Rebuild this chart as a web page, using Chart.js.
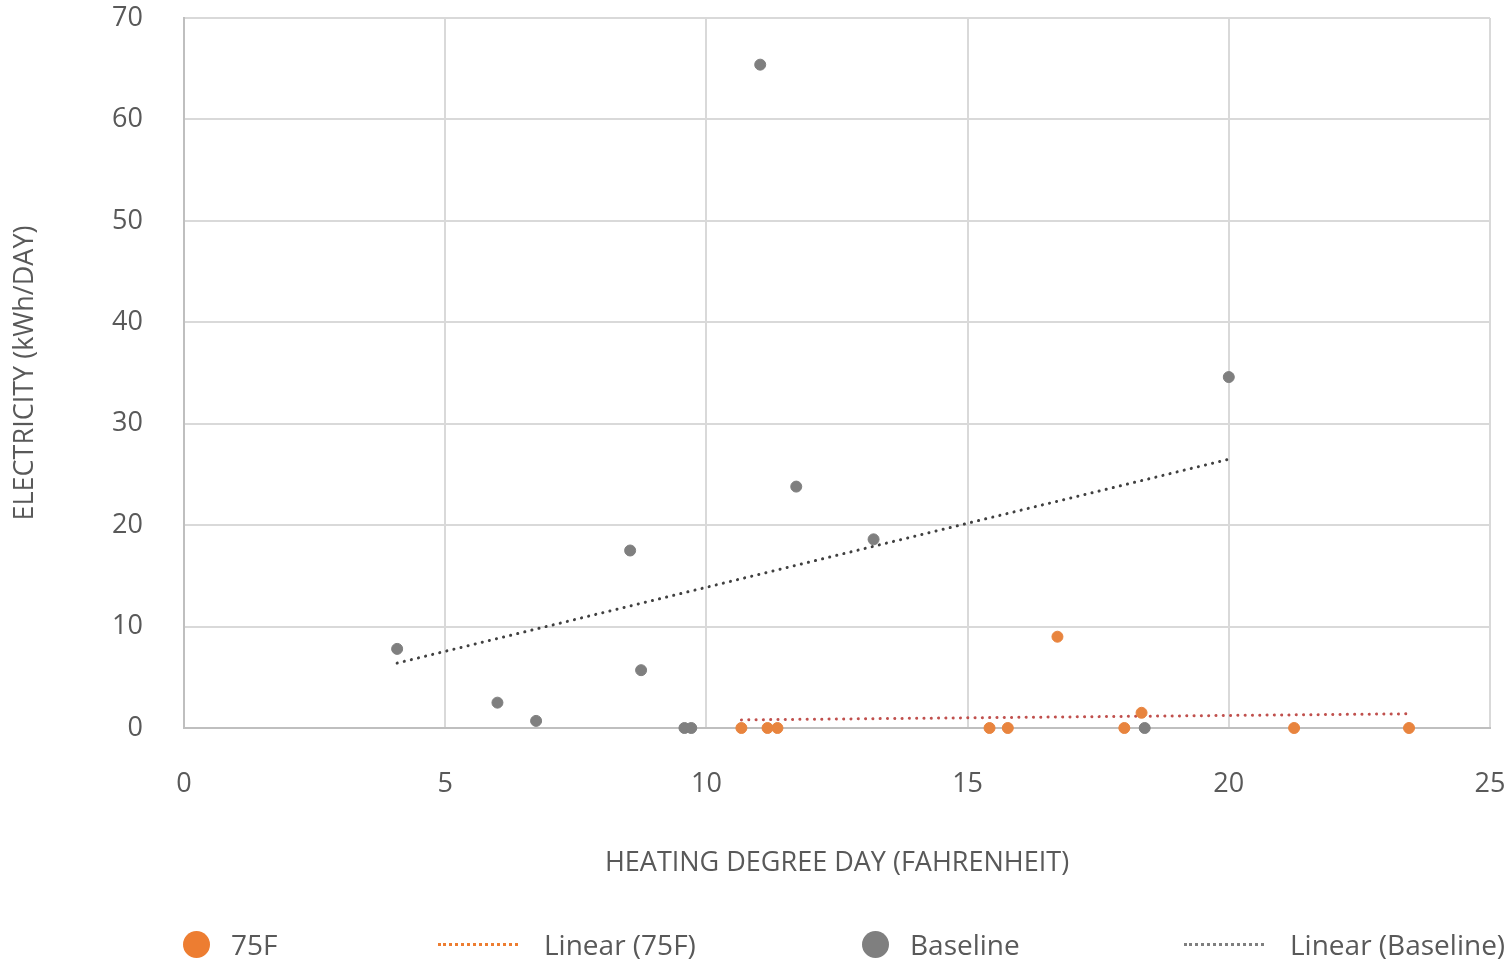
<!DOCTYPE html>
<html lang="en">
<head>
	<meta charset="UTF-8">
	<title>Electricity vs Heating Degree Day</title>
	<style>
		body { margin: 0; background: #fff; font-family: "Open Sans", sans-serif; }
		.wrap { position: relative; width: 1507px; height: 964px; }
		.legend { position: absolute; top: 924px; left: 0; width: 1507px; height: 40px; color: #595959; font-size: 28px; }
		.item { position: absolute; top: 0; height: 40px; display: flex; align-items: center; white-space: nowrap; }
		.dot { width: 27px; height: 27px; border-radius: 50%; margin-right: 21px; }
		.dash { width: 80px; height: 0; border-top: 3px dotted; margin-right: 26px; }
	</style>
</head>
<body>
	<div class="wrap">
		<canvas id="chart" width="1507" height="964"></canvas>

		<!-- legend -->
		<div class="legend">
			<div class="item" style="left:183px"><span class="dot" style="background:#ED7D31"></span>75F</div>
			<div class="item" style="left:438px"><span class="dash" style="border-color:#ED7D31"></span>Linear (75F)</div>
			<div class="item" style="left:862px"><span class="dot" style="background:#7F7F7F"></span>Baseline</div>
			<div class="item" style="left:1184px"><span class="dash" style="border-color:#7F7F7F"></span>Linear (Baseline)</div>
		</div>
	</div>

	<script src="https://cdn.jsdelivr.net/npm/chart.js"></script>

	<script>
		// data
		const f75X = [10.67, 11.17, 11.36, 15.42, 15.77, 16.72, 18.0, 18.33, 21.25, 23.45];
		const f75Y = [0, 0, 0, 0, 0, 9.0, 0, 1.5, 0, 0];

		const baseX = [4.08, 6.0, 6.74, 8.54, 8.75, 9.58, 9.71, 11.03, 11.72, 13.2, 18.39, 20.0];
		const baseY = [7.8, 2.5, 0.7, 17.5, 5.7, 0, 0, 65.4, 23.8, 18.6, 0, 34.6];

		// trendline end points
		const f75TrendX = [10.67, 23.45];
		const f75TrendY = [0.8, 1.4];
		const baseTrendX = [4.08, 20.0];
		const baseTrendY = [6.4, 26.5];

		const xTicks = [0, 5, 10, 15, 20, 25];
		const yTicks = [0, 10, 20, 30, 40, 50, 60, 70];

		const pts = (xs, ys) => xs.map((x, i) => ({ x: x, y: ys[i] }));

		const textColor = '#595959';
		const gridColor = '#d9d9d9';

		const data = {
			datasets: [
				{
					label: 'Linear (75F)',
					data: pts(f75TrendX, f75TrendY),
					showLine: true,
					borderColor: '#C0504D',
					borderWidth: 3,
					borderDash: [0.1, 7.2],
					borderCapStyle: 'round',
					pointRadius: 0,
					order: 3
				},
				{
					label: 'Linear (Baseline)',
					data: pts(baseTrendX, baseTrendY),
					showLine: true,
					borderColor: '#404040',
					borderWidth: 3,
					borderDash: [0.1, 7.2],
					borderCapStyle: 'round',
					pointRadius: 0,
					order: 4
				},
				{
					label: 'Baseline',
					data: pts(baseX, baseY),
					backgroundColor: '#7F7F7F',
					borderColor: '#7F7F7F',
					pointRadius: 5.5,
					clip: false, // points on the 0 line are drawn whole
					order: 2
				},
				{
					label: '75F',
					data: pts(f75X, f75Y),
					backgroundColor: '#E8843E',
					borderColor: '#E8843E',
					pointRadius: 5.5,
					clip: false,
					order: 1
				}
			]
		};

		const config = {
			type: 'scatter',
			data: data,
			options: {
				responsive: false,
				animation: false,
				layout: { padding: { top: 18, right: 17, left: 0, bottom: 0 } },
				plugins: {
					legend: { display: false },
					tooltip: { enabled: false }
				},
				scales: {
					x: {
						type: 'linear',
						min: 0,
						max: 25,
						afterBuildTicks: (s) => { s.ticks = xTicks.map(v => ({ value: v })); },
						afterFit: (s) => { s.height = 236; s.paddingLeft = 0; s.paddingRight = 0; },
						grid: { color: gridColor, lineWidth: 2, drawTicks: false },
						border: { color: '#bfbfbf', width: 2 },
						ticks: { color: textColor, padding: 40, font: { family: 'Open Sans', size: 27 } },
						title: {
							display: true,
							text: 'HEATING DEGREE DAY (FAHRENHEIT)',
							color: textColor,
							font: { family: 'Open Sans', size: 27 },
							padding: { top: 0, bottom: 84 }
						}
					},
					y: {
						type: 'linear',
						min: 0,
						max: 70,
						afterBuildTicks: (s) => { s.ticks = yTicks.map(v => ({ value: v })); },
						afterFit: (s) => { s.width = 184; s.paddingTop = 0; s.paddingBottom = 0; },
						grid: { color: gridColor, lineWidth: 2, drawTicks: false },
						border: { color: '#bfbfbf', width: 2 },
						ticks: { color: textColor, padding: 41, font: { family: 'Open Sans', size: 27 } },
						title: {
							display: true,
							text: 'ELECTRICITY (kWh/DAY)',
							color: textColor,
							font: { family: 'Open Sans', size: 27 },
							padding: { top: 9, bottom: 0 }
						}
					}
				}
			}
		};

		const chart = new Chart(document.getElementById('chart'), config);
	</script>
</body>
</html>
